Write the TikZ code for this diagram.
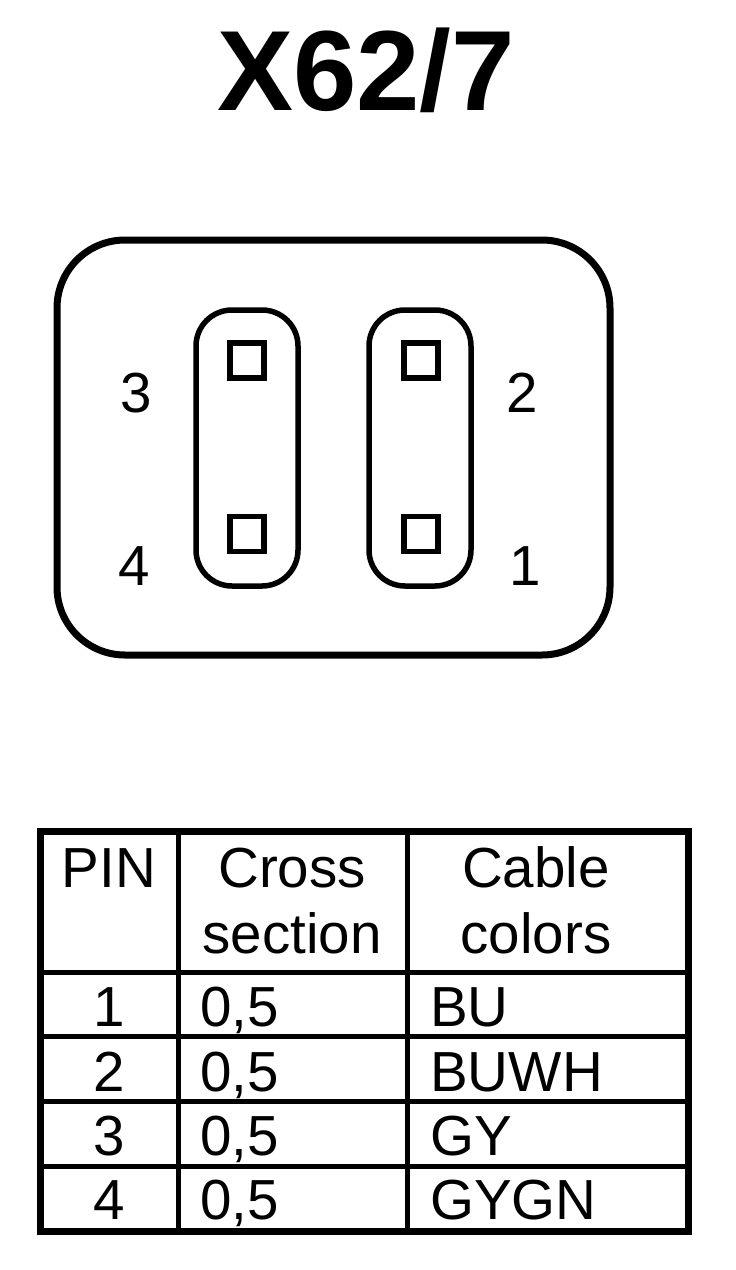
\documentclass[tikz,border=0pt]{standalone}
\usepackage{fontspec}
\setmainfont{Liberation Sans}
\usetikzlibrary{positioning}
\tikzstyle{shell}=[
	rectangle,
	draw=black,
	line width=7pt,
	rounded corners=68pt,
	minimum width=553pt,
	minimum height=415pt
]
\tikzstyle{slot}=[
	rectangle,
	draw=black,
	line width=5.5pt,
	rounded corners=36pt,
	minimum width=102pt,
	minimum height=276pt
]
\tikzstyle{contact}=[
	rectangle,
	draw=black,
	line width=5.5pt,
	minimum width=34pt,
	minimum height=35pt
]
\tikzstyle{label}=[
	inner sep=0pt,
	anchor=base,
	font=\fontsize{56.5}{66}\selectfont
]
\tikzstyle{cell}=[
	label,
	anchor=base west
]
\tikzstyle{rule}=[
	line width=5pt
]
\begin{document}
\begin{tikzpicture}[x=1pt,y=-1pt]
\useasboundingbox (0,0) rectangle (736,1270);
\node [label,font=\fontsize{114}{114}\selectfont\bfseries] (title) at (366,110) {X62/7};
% connector
\node [shell] (housing) at (333.5,447.5) {};
\node [slot] (slotA) at (247,448) {};
\node [slot] (slotB) at (420,448) {};
\node [contact] (pinThree) at (247,360.5) {};
\node [contact] (pinFour) at (247,534) {};
\node [contact] (pinTwo) at (421,360.5) {};
\node [contact] (pinOne) at (421,534) {};
\node [label] (numThree) at (136,412) {3};
\node [label] (numFour) at (134,585) {4};
\node [label] (numTwo) at (522,412) {2};
\node [label] (numOne) at (525,585) {1};
% table
\coordinate (tableNW) at (40,831.5);
\coordinate (tableSE) at (688,1231);
\draw [line width=7pt] (tableNW) rectangle (tableSE);
\foreach \x in {178.5,407.5}
	\draw [rule] (\x,831.5) -- (\x,1231);
\foreach \y in {972.5,1036.5,1101.5,1166}
	\draw [rule] (40,\y) -- (688,\y);
\node [label] (headPin) at (109,887) {PIN};
\node [label,align=center] (headCross) at (292,953) {Cross\\section};
\node [label,align=center] (headCable) at (536,953) {Cable\\colors};
\foreach \n/\colour/\y in {1/BU/1026,2/BUWH/1091,3/GY/1155,4/GYGN/1219}{
	\node [label] (pin\n) at (109,\y) {\n};
	\node [cell] (area\n) at (200,\y) {0,5};
	\node [cell] (colour\n) at (430,\y) {\colour};
}
\end{tikzpicture}
\end{document}
